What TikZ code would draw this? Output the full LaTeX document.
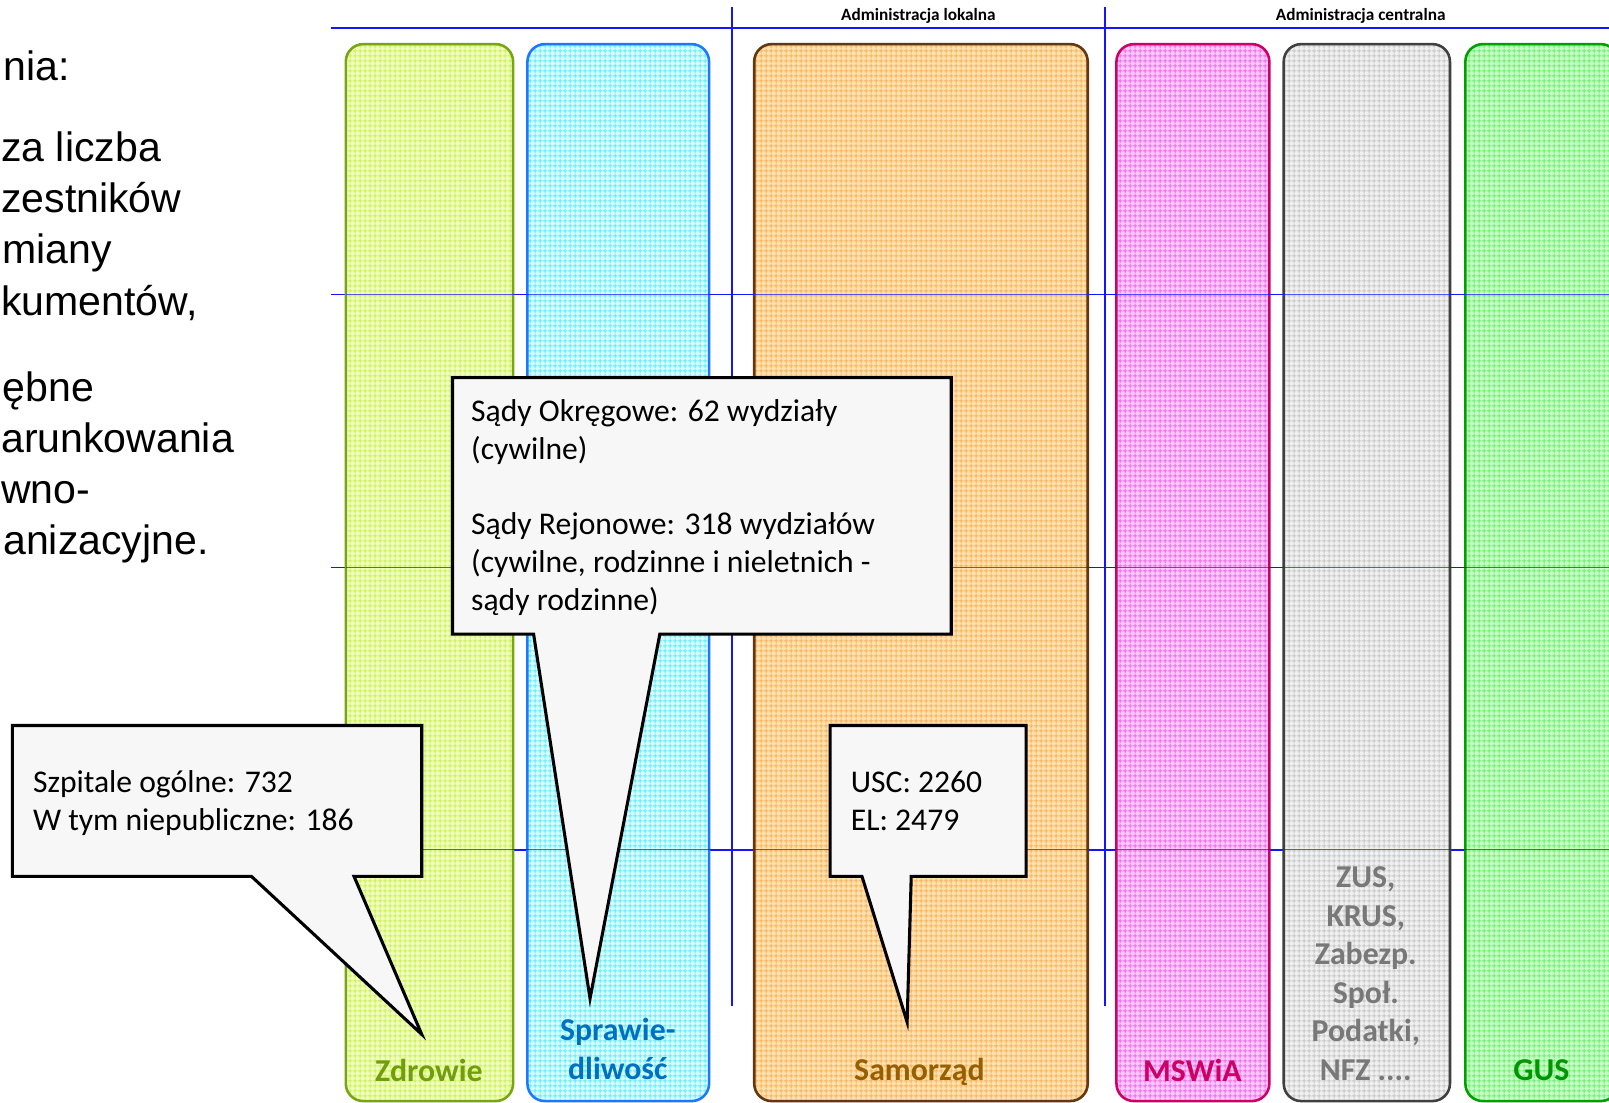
\documentclass[tikz,border=0pt]{standalone}
\usepackage{fontspec}
\usetikzlibrary{patterns.meta}
\setmainfont{Carlito}
\newfontfamily\arialf{Liberation Sans}
\definecolor{guideblue}{RGB}{20,20,255}
\definecolor{calloutfill}{RGB}{247,247,247}
\definecolor{zdrB}{RGB}{120,165,20}
\definecolor{zdrF}{RGB}{240,255,190}
\definecolor{zdrP}{RGB}{205,240,90}
\definecolor{zdrT}{RGB}{112,158,12}
\definecolor{sprB}{RGB}{30,120,255}
\definecolor{sprF}{RGB}{215,255,255}
\definecolor{sprP}{RGB}{100,235,255}
\definecolor{sprT}{RGB}{0,112,192}
\definecolor{samB}{RGB}{100,55,15}
\definecolor{samF}{RGB}{255,225,175}
\definecolor{samP}{RGB}{250,180,90}
\definecolor{samT}{RGB}{150,95,0}
\definecolor{msB}{RGB}{205,0,100}
\definecolor{msF}{RGB}{255,200,255}
\definecolor{msP}{RGB}{240,110,235}
\definecolor{zusB}{RGB}{64,64,64}
\definecolor{zusF}{RGB}{240,240,240}
\definecolor{zusP}{RGB}{200,200,200}
\definecolor{zusT}{RGB}{120,120,120}
\definecolor{gusB}{RGB}{0,160,0}
\definecolor{gusF}{RGB}{200,255,200}
\definecolor{gusP}{RGB}{110,240,110}
\definecolor{gusT}{RGB}{0,150,0}
\tikzdeclarepattern{
  name=plaid,
  type=uncolored,
  bottom left={(0pt,0pt)},
  top right={(5pt,5pt)},
  tile size={(5pt,5pt)},
  code={
    \pgfsetlinewidth{1.2pt}
    \pgfpathmoveto{\pgfpoint{0pt}{2.5pt}}\pgfpathlineto{\pgfpoint{5pt}{2.5pt}}
    \pgfpathmoveto{\pgfpoint{2.5pt}{0pt}}\pgfpathlineto{\pgfpoint{2.5pt}{5pt}}
    \pgfusepath{stroke}
  }
}
\tikzset{
  pillar/.style={line width=2.5pt, rounded corners=17pt},
  guide/.style={draw=guideblue, line width=1.8pt},
  guidethin/.style={draw=guideblue, line width=1.3pt, draw opacity=0.7},
  callout/.style={draw=black, fill=calloutfill, line width=3pt, line join=miter},
  calltext/.style={anchor=base west, inner sep=0pt, align=left, font=\fontsize{30.8}{36.7}\selectfont},
  plabel/.style={anchor=base, inner sep=0pt, align=center, font=\bfseries\fontsize{31}{37.5}\selectfont},
  header/.style={anchor=base, inner sep=0pt, font=\bfseries\fontsize{16.8}{19}\selectfont},
  bigtext/.style={inner sep=0pt, font=\arialf\fontsize{40}{50}\selectfont},
}
\begin{document}
\begin{tikzpicture}[x=1pt,y=-1pt]
\useasboundingbox (0,0) rectangle (1568,1074);
\fill[white] (0,0) rectangle (1568,1074);
% guide lines
\draw[guide] (323,27) -- (1568,27);
\draw[guide] (323,287) -- (1568,287);
\draw[guide] (323,553) -- (1568,553);
\draw[guide] (323,828) -- (1568,828);
\draw[guide] (713,7) -- (713,980);
\draw[guide] (1077,7) -- (1077,980);
% headers
\node[header] (hloc) at (895,19.5) {Administracja lokalna};
\node[header] (hcen) at (1326,19.5) {Administracja centralna};
% pillars (fill + plaid texture)
\fill[zdrF, rounded corners=17pt] (337,43) rectangle (500,1073);
\fill[sprF, rounded corners=17pt] (514,43) rectangle (691,1073);
\fill[samF, rounded corners=17pt] (735,43) rectangle (1060,1073);
\fill[msF, rounded corners=17pt] (1088,43) rectangle (1237,1073);
\fill[zusF, rounded corners=17pt] (1251,43) rectangle (1413,1073);
\fill[gusF, rounded corners=17pt] (1428,43) rectangle (1577,1073);
\draw[pillar, draw=zdrB, pattern={plaid}, pattern color=zdrP] (337,43) rectangle (500,1073);
\draw[pillar, draw=sprB, pattern={plaid}, pattern color=sprP] (514,43) rectangle (691,1073);
\draw[pillar, draw=samB, pattern={plaid}, pattern color=samP] (735,43) rectangle (1060,1073);
\draw[pillar, draw=msB, pattern={plaid}, pattern color=msP] (1088,43) rectangle (1237,1073);
\draw[pillar, draw=zusB, pattern={plaid}, pattern color=zusP] (1251,43) rectangle (1413,1073);
\draw[pillar, draw=gusB, pattern={plaid}, pattern color=gusP] (1428,43) rectangle (1577,1073);
\draw[guidethin] (337,287) -- (1568,287);
\draw[guidethin] (337,553) -- (1568,553);
\draw[guidethin] (337,828) -- (1568,828);
% pillar labels
\node[plabel, text=zdrT] (lzdr) at (418,1054) {Zdrowie};
\node[plabel, text=sprT] (lspr) at (602,1051.6) {Sprawie-\\dliwość};
\node[plabel, text=samT] (lsam) at (896,1053) {Samorząd};
\node[plabel, text=msB] (lms) at (1162,1053.5) {MSWiA};
\node[plabel, text=zusT] (lzus) at (1331,1052.6) {ZUS,\\KRUS,\\Zabezp.\\Społ.\\Podatki,\\NFZ ....};
\node[plabel, text=gusT] (lgus) at (1502,1053) {GUS};
% left text
\node[bigtext, anchor=base east] (t1) at (68,78) {nia:};
\node[bigtext, anchor=base west] (t2) at (1,157) {za liczba};
\node[bigtext, anchor=base west] (t3) at (1,207) {zestników};
\node[bigtext, anchor=base west] (t4) at (2,257) {miany};
\node[bigtext, anchor=base west] (t5) at (1,307) {kumentów,};
\node[bigtext, anchor=base east] (t6) at (92,391) {ębne};
\node[bigtext, anchor=base west] (t7) at (1,441) {arunkowania};
\node[bigtext, anchor=base west] (t8) at (1,491) {wno-};
\node[bigtext, anchor=base west] (t9) at (3,540) {anizacyjne.};
% callouts
\draw[callout] (12,707) -- (411,707) -- (411,854) -- (345,854) -- (411,1008) -- (245,854) -- (12,854) -- cycle;
\node[calltext] (ca) at (32,809) {Szpitale ogólne: 732\\W tym niepubliczne: 186};
\draw[callout] (441,368) -- (927,368) -- (927,618) -- (643,618) -- (575,973) -- (520,618) -- (441,618) -- cycle;
\node[calltext] (cb) at (459,594.5) {Sądy Okręgowe: 62 wydziały\\(cywilne)\\[36.7pt]Sądy Rejonowe: 318 wydziałów\\(cywilne, rodzinne i nieletnich -\\sądy rodzinne)};
\draw[callout] (809,707) -- (1000,707) -- (1000,854) -- (888,854) -- (884,996) -- (840,854) -- (809,854) -- cycle;
\node[calltext] (cc) at (829,809) {USC: 2260\\EL: 2479};
\end{tikzpicture}
\end{document}
